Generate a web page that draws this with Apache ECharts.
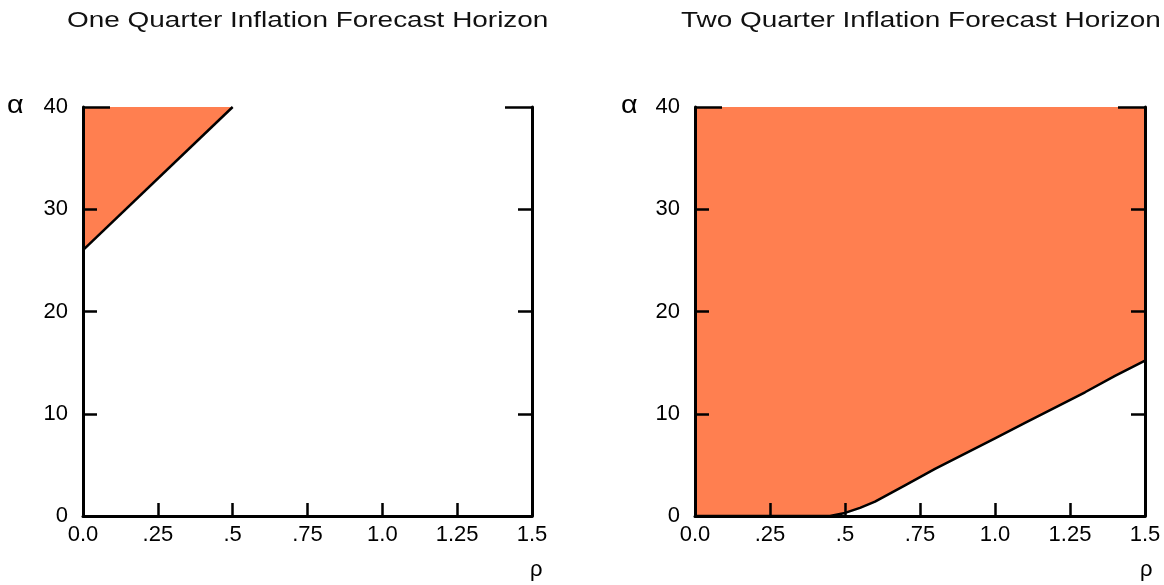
<!DOCTYPE html>
<html>
<head>
<meta charset="utf-8">
<script src="https://cdn.jsdelivr.net/npm/echarts@6/dist/echarts.min.js"></script>
<style>
  html, body { margin: 0; padding: 0; background: #fff; }
  #chart { width: 1164px; height: 585px; }
</style>
</head>
<body>
<div id="chart"></div>
<script>
// Panel titles
const panelTitles = ['One Quarter Inflation Forecast Horizon', 'Two Quarter Inflation Forecast Horizon'];

// x-axis (rho) tick labels, one per 0.25 step
const rhoTickLabels = ['0.0', '.25', '.5', '.75', '1.0', '1.25', '1.5'];

// Boundary of the shaded region, one quarter horizon
const rhoOne = [0, 0.5];
const alphaOne = [26, 40];

// Boundary of the shaded region, two quarter horizon
const rhoTwo = [0, 0.45, 0.5, 0.55, 0.6, 0.7, 0.8, 0.9, 1.0, 1.1, 1.2, 1.3, 1.4, 1.5];
const alphaTwo = [0, 0, 0.3, 0.8, 1.4, 3.0, 4.6, 6.1, 7.6, 9.1, 10.6, 12.1, 13.7, 15.2];

const FONT = '"Liberation Sans", Arial, Helvetica, sans-serif';
const FILL = '#ff7f50';

const chart = echarts.init(document.getElementById('chart'), null, { renderer: 'canvas' });

const grids = [
  { left: 83, right: 632, top: 107, bottom: 69 },
  { left: 695, right: 19, top: 107, bottom: 69 }
];

const xAxes = [], yAxes = [];
grids.forEach((g, i) => {
  xAxes.push({
    gridIndex: i, type: 'value', min: 0, max: 1.5, interval: 0.25, z: 5,
    axisLine: { show: true, onZero: false, lineStyle: { color: '#000', width: 3 } },
    axisTick: { show: true, inside: true, length: 13, lineStyle: { color: '#000', width: 2.5 } },
    axisLabel: {
      color: '#000', fontSize: 22, fontFamily: FONT, margin: 8,
      showMinLabel: true, showMaxLabel: true,
      formatter: v => rhoTickLabels[Math.round(v / 0.25)]
    },
    splitLine: { show: false }
  });
  // left axis with labels
  yAxes.push({
    gridIndex: i, type: 'value', min: 0, max: 40, interval: 10, position: 'left', z: 5,
    axisLine: { show: true, onZero: false, lineStyle: { color: '#000', width: 3 } },
    axisTick: { show: true, inside: true, length: 14, lineStyle: { color: '#000', width: 2.5 } },
    axisLabel: { color: '#000', fontSize: 22, fontFamily: FONT, margin: 15 },
    splitLine: { show: false }
  });
  // right axis, ticks only
  yAxes.push({
    gridIndex: i, type: 'value', min: 0, max: 40, interval: 10, position: 'right', z: 5,
    axisLine: { show: true, onZero: false, lineStyle: { color: '#000', width: 3 } },
    axisTick: { show: true, inside: true, length: 14, lineStyle: { color: '#000', width: 2.5 } },
    axisLabel: { show: false },
    splitLine: { show: false }
  });
  // longer ticks at the top corners
  ['left', 'right'].forEach(pos => {
    yAxes.push({
      gridIndex: i, type: 'value', min: 0, max: 40, interval: 40, position: pos, z: 5,
      axisLine: { show: false },
      axisTick: { show: true, inside: true, length: 27, lineStyle: { color: '#000', width: 2.5 } },
      axisLabel: { show: false },
      splitLine: { show: false }
    });
  });
});

function boundarySeries(idx, xs, ys) {
  return {
    type: 'line',
    xAxisIndex: idx, yAxisIndex: idx * 4,
    data: xs.map((x, k) => [x, ys[k]]),
    symbol: 'none',
    smooth: false,
    lineStyle: { color: '#000', width: 2.5 },
    areaStyle: { color: FILL, opacity: 1, origin: 'end' },
    z: 1
  };
}

// Titles are drawn slightly widened
const titleStyle = { font: '22px ' + FONT, fill: '#111', textVerticalAlign: 'top' };
const symbolStyle = { font: '25px ' + FONT, fill: '#000' };

chart.setOption({
  animation: false,
  backgroundColor: '#fff',
  grid: grids,
  xAxis: xAxes,
  yAxis: yAxes,
  graphic: [
    { type: 'text', x: 67, y: 10, scaleX: 1.27, style: Object.assign({ text: panelTitles[0] }, titleStyle) },
    { type: 'text', x: 681, y: 10, scaleX: 1.27, style: Object.assign({ text: panelTitles[1] }, titleStyle) },
    { type: 'text', x: 7, y: 94, scaleX: 1.15, style: Object.assign({ text: 'α' }, symbolStyle) },
    { type: 'text', x: 621, y: 94, scaleX: 1.15, style: Object.assign({ text: 'α' }, symbolStyle) },
    { type: 'text', left: 530, top: 559, style: { text: 'ρ', font: '22px ' + FONT, fill: '#000' } },
    { type: 'text', left: 1140, top: 559, style: { text: 'ρ', font: '22px ' + FONT, fill: '#000' } }
  ],
  series: [
    boundarySeries(0, rhoOne, alphaOne),
    boundarySeries(1, rhoTwo, alphaTwo)
  ]
});
</script>
</body>
</html>
